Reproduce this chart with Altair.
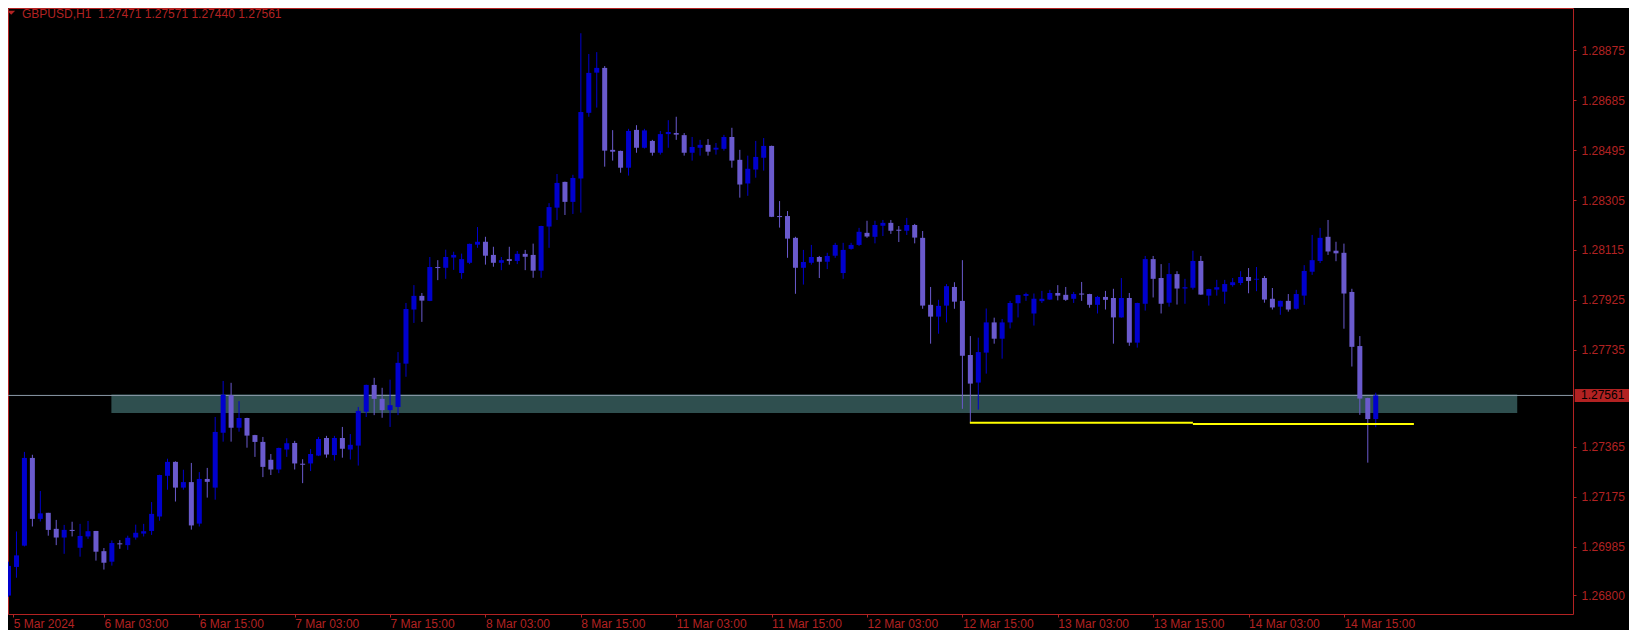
import json
import altair as alt
import pandas as pd

# ---------------- data (GBPUSD H1, bars 5 Mar 15:00 -> 14 Mar 19:00) ----------------
opens = [
    1.26799, 1.26908, 1.26989, 1.27323, 1.27091, 1.27114, 1.27053, 1.27020, 1.27049, 1.26981,
    1.27024, 1.27045, 1.26968, 1.26928, 1.26998, 1.26991, 1.27020, 1.27035, 1.27045, 1.27100,
    1.27255, 1.27308, 1.27210, 1.27231, 1.27073, 1.27243, 1.27210, 1.27419, 1.27562, 1.27438,
    1.27475, 1.27410, 1.27384, 1.27316, 1.27279, 1.27355, 1.27380, 1.27301, 1.27302, 1.27332,
    1.27399, 1.27334, 1.27399, 1.27355, 1.27370, 1.27499, 1.27601, 1.27548, 1.27505, 1.27517,
    1.27682, 1.27888, 1.27940, 1.27921, 1.28050, 1.28047, 1.28086, 1.28027, 1.28066, 1.28135,
    1.28146, 1.28096, 1.28066, 1.28080, 1.28073, 1.28100, 1.28096, 1.28036, 1.28204, 1.28276,
    1.28374, 1.28298, 1.28387, 1.28637, 1.28790, 1.28808, 1.28496, 1.28492, 1.28428, 1.28572,
    1.28504, 1.28530, 1.28485, 1.28556, 1.28560, 1.28552, 1.28485, 1.28504, 1.28515, 1.28497,
    1.28500, 1.28545, 1.28458, 1.28368, 1.28421, 1.28466, 1.28511, 1.28244, 1.28244, 1.28161,
    1.28047, 1.28066, 1.28088, 1.28070, 1.28093, 1.28027, 1.28119, 1.28134, 1.28180, 1.28165,
    1.28207, 1.28218, 1.28192, 1.28188, 1.28210, 1.28161, 1.27906, 1.27861, 1.27903, 1.27974,
    1.27921, 1.27715, 1.27610, 1.27724, 1.27839, 1.27777, 1.27839, 1.27912, 1.27940, 1.27873,
    1.27920, 1.27926, 1.27951, 1.27944, 1.27929, 1.27949, 1.27947, 1.27906, 1.27936, 1.27932,
    1.27858, 1.27932, 1.27762, 1.27910, 1.28080, 1.28008, 1.27914, 1.28023, 1.27968, 1.27971,
    1.28073, 1.27941, 1.27964, 1.27956, 1.27981, 1.27989, 1.28012, 1.28002, 1.28008, 1.27929,
    1.27899, 1.27921, 1.27891, 1.27941, 1.28032, 1.28073, 1.28165, 1.28112, 1.28104, 1.27955,
    1.27749, 1.27551, 1.27471]

highs = [
    1.26928, 1.27043, 1.27346, 1.27335, 1.27197, 1.27114, 1.27087, 1.27068, 1.27080, 1.27072,
    1.27083, 1.27045, 1.26980, 1.27009, 1.27010, 1.27027, 1.27069, 1.27072, 1.27155, 1.27259,
    1.27320, 1.27310, 1.27278, 1.27304, 1.27269, 1.27285, 1.27479, 1.27616, 1.27609, 1.27539,
    1.27476, 1.27411, 1.27403, 1.27338, 1.27362, 1.27398, 1.27388, 1.27318, 1.27357, 1.27403,
    1.27407, 1.27407, 1.27441, 1.27414, 1.27517, 1.27602, 1.27628, 1.27590, 1.27621, 1.27726,
    1.27913, 1.27981, 1.27951, 1.28088, 1.28076, 1.28116, 1.28108, 1.28101, 1.28139, 1.28202,
    1.28165, 1.28127, 1.28088, 1.28127, 1.28111, 1.28115, 1.28139, 1.28207, 1.28293, 1.28404,
    1.28375, 1.28401, 1.28940, 1.28861, 1.28868, 1.28815, 1.28571, 1.28493, 1.28576, 1.28590,
    1.28576, 1.28534, 1.28568, 1.28609, 1.28622, 1.28560, 1.28545, 1.28534, 1.28537, 1.28522,
    1.28553, 1.28580, 1.28496, 1.28474, 1.28530, 1.28541, 1.28512, 1.28301, 1.28263, 1.28165,
    1.28115, 1.28134, 1.28092, 1.28104, 1.28142, 1.28142, 1.28142, 1.28199, 1.28226, 1.28226,
    1.28229, 1.28229, 1.28206, 1.28237, 1.28214, 1.28187, 1.27974, 1.27925, 1.27985, 1.27992,
    1.28076, 1.27787, 1.27781, 1.27892, 1.27857, 1.27852, 1.27921, 1.27944, 1.27952, 1.27949,
    1.27959, 1.27963, 1.27981, 1.27974, 1.27955, 1.27993, 1.27948, 1.27940, 1.27959, 1.27967,
    1.28008, 1.27951, 1.27914, 1.28092, 1.28092, 1.28061, 1.28065, 1.28034, 1.28005, 1.28112,
    1.28092, 1.27967, 1.28001, 1.28001, 1.28008, 1.28034, 1.28046, 1.28050, 1.28016, 1.27970,
    1.27922, 1.27947, 1.27963, 1.28057, 1.28172, 1.28199, 1.28229, 1.28146, 1.28139, 1.27967,
    1.27787, 1.27552, 1.27571]

lows = [
    1.26794, 1.26867, 1.26986, 1.27062, 1.27081, 1.27027, 1.26991, 1.26958, 1.27024, 1.26947,
    1.27015, 1.26932, 1.26898, 1.26913, 1.26977, 1.26973, 1.27012, 1.27024, 1.27030, 1.27084,
    1.27202, 1.27157, 1.27202, 1.27050, 1.27062, 1.27172, 1.27164, 1.27385, 1.27385, 1.27423,
    1.27362, 1.27327, 1.27250, 1.27258, 1.27265, 1.27327, 1.27279, 1.27227, 1.27273, 1.27330,
    1.27324, 1.27313, 1.27324, 1.27317, 1.27294, 1.27479, 1.27486, 1.27476, 1.27441, 1.27486,
    1.27632, 1.27837, 1.27841, 1.27920, 1.28000, 1.28005, 1.28039, 1.28005, 1.28061, 1.28123,
    1.28059, 1.28051, 1.28038, 1.28059, 1.28061, 1.28038, 1.28009, 1.28009, 1.28123, 1.28229,
    1.28248, 1.28252, 1.28257, 1.28622, 1.28657, 1.28432, 1.28455, 1.28409, 1.28398, 1.28485,
    1.28501, 1.28474, 1.28478, 1.28504, 1.28534, 1.28474, 1.28455, 1.28474, 1.28474, 1.28478,
    1.28493, 1.28428, 1.28314, 1.28321, 1.28390, 1.28417, 1.28240, 1.28200, 1.28085, 1.27948,
    1.27983, 1.28059, 1.28008, 1.28042, 1.28085, 1.28005, 1.28116, 1.28130, 1.28161, 1.28140,
    1.28168, 1.28176, 1.28145, 1.28172, 1.28140, 1.27891, 1.27758, 1.27796, 1.27839, 1.27891,
    1.27510, 1.27457, 1.27507, 1.27644, 1.27758, 1.27701, 1.27816, 1.27858, 1.27921, 1.27827,
    1.27913, 1.27925, 1.27923, 1.27921, 1.27913, 1.27921, 1.27895, 1.27873, 1.27888, 1.27758,
    1.27857, 1.27750, 1.27743, 1.27884, 1.27934, 1.27873, 1.27899, 1.27907, 1.27910, 1.27964,
    1.27944, 1.27903, 1.27941, 1.27910, 1.27975, 1.27981, 1.27950, 1.27958, 1.27914, 1.27888,
    1.27868, 1.27880, 1.27888, 1.27906, 1.28020, 1.28065, 1.28096, 1.28072, 1.27815, 1.27671,
    1.27487, 1.27305, 1.27440]

closes = [
    1.26912, 1.26952, 1.27323, 1.27091, 1.27112, 1.27049, 1.27020, 1.27049, 1.27045, 1.27026,
    1.27044, 1.26966, 1.26924, 1.26999, 1.26994, 1.27019, 1.27038, 1.27044, 1.27110, 1.27258,
    1.27308, 1.27210, 1.27231, 1.27066, 1.27243, 1.27232, 1.27422, 1.27564, 1.27438, 1.27475,
    1.27408, 1.27384, 1.27289, 1.27279, 1.27361, 1.27379, 1.27302, 1.27297, 1.27338, 1.27395,
    1.27336, 1.27399, 1.27358, 1.27373, 1.27502, 1.27601, 1.27548, 1.27505, 1.27524, 1.27685,
    1.27890, 1.27940, 1.27922, 1.28050, 1.28046, 1.28088, 1.28096, 1.28080, 1.28138, 1.28146,
    1.28093, 1.28066, 1.28076, 1.28073, 1.28100, 1.28089, 1.28036, 1.28206, 1.28278, 1.28370,
    1.28298, 1.28389, 1.28640, 1.28789, 1.28808, 1.28493, 1.28489, 1.28428, 1.28568, 1.28504,
    1.28570, 1.28485, 1.28556, 1.28564, 1.28554, 1.28485, 1.28507, 1.28515, 1.28489, 1.28504,
    1.28545, 1.28455, 1.28364, 1.28424, 1.28469, 1.28511, 1.28241, 1.28240, 1.28158, 1.28047,
    1.28069, 1.28088, 1.28070, 1.28092, 1.28134, 1.28115, 1.28134, 1.28184, 1.28166, 1.28210,
    1.28218, 1.28188, 1.28188, 1.28210, 1.28162, 1.27903, 1.27861, 1.27902, 1.27977, 1.27918,
    1.27712, 1.27606, 1.27726, 1.27839, 1.27777, 1.27839, 1.27913, 1.27943, 1.27947, 1.27929,
    1.27929, 1.27951, 1.27941, 1.27925, 1.27947, 1.27945, 1.27906, 1.27936, 1.27925, 1.27858,
    1.27932, 1.27762, 1.27913, 1.28080, 1.28005, 1.27910, 1.28023, 1.27968, 1.27973, 1.28073,
    1.27945, 1.27966, 1.27973, 1.27985, 1.27992, 1.28012, 1.27997, 1.28005, 1.27926, 1.27896,
    1.27921, 1.27888, 1.27947, 1.28035, 1.28076, 1.28161, 1.28109, 1.28102, 1.27949, 1.27746,
    1.27549, 1.27471, 1.27561]

# time axis (bar index of each label; first label sits at the left edge of the window)
tick_bars = [0.6, 12, 24, 36, 48, 60, 72, 84, 96, 108, 120, 132, 144, 156, 168]
tick_labels = ["5 Mar 2024", "6 Mar 03:00", "6 Mar 15:00", "7 Mar 03:00", "7 Mar 15:00",
               "8 Mar 03:00", "8 Mar 15:00", "11 Mar 03:00", "11 Mar 15:00", "12 Mar 03:00",
               "12 Mar 15:00", "13 Mar 03:00", "13 Mar 15:00", "14 Mar 03:00", "14 Mar 15:00"]
# 1.27545 is hidden behind the current-price label in the reference
price_ticks = [1.26800, 1.26985, 1.27175, 1.27365, 1.27735, 1.27925,
               1.28115, 1.28305, 1.28495, 1.28685, 1.28875]

bid_price = 1.27561
header = "GBPUSD,H1\u00a0\u00a01.27471 1.27571 1.27440 1.27561"

# support zone rectangle and yellow level lines (bar index, price)
zone = {"x": [12.94], "x2": [189.8], "y": [1.27565], "y2": [1.27494]}
levels = {"x": [120.94, 149.0], "x2": [149.0, 176.8], "y": [1.27457, 1.27452]}

# ---------------- styling ----------------
RED = "#B22222"
BULL = "#0000CD"
BEAR = "#6A5ACD"
FONT = "Liberation Sans"
W, H = 1565, 606
XDOM = [0.5625, 196.1875]
YDOM = [1.267288, 1.290361]

n = len(opens)
df = pd.DataFrame({
    "bar": list(range(n)),
    "open": opens, "high": highs, "low": lows, "close": closes,
})
df["dir"] = ["bull" if c >= o else "bear" for o, c in zip(opens, closes)]
df["top"] = df[["open", "close"]].max(axis=1)
df["bot"] = df[["open", "close"]].min(axis=1)

label_expr = json.dumps(tick_labels) + "[round(datum.value / 12)]"

xscale = alt.Scale(domain=XDOM, nice=False, zero=False)
yscale = alt.Scale(domain=YDOM, nice=False, zero=False)
color = alt.Color("dir:N", scale=alt.Scale(domain=["bull", "bear"], range=[BULL, BEAR]), legend=None)

xaxis = alt.Axis(orient="bottom", values=tick_bars, labelExpr=label_expr, labelAlign="left",
                 grid=False, domain=False, tickColor=RED, tickSize=3, labelColor=RED,
                 labelFont=FONT, labelFontSize=12, labelPadding=1, title=None,
                 labelFlush=False, labelOverlap=False)
yaxis = alt.Axis(orient="right", values=price_ticks, format=".5f", grid=False, domain=False,
                 tickColor=RED, tickSize=3, labelColor=RED, labelFont=FONT, labelFontSize=12,
                 labelPadding=5, title=None, labelOverlap=False, labelFlush=False)

base = alt.Chart(df)

zone_layer = alt.Chart(pd.DataFrame(zone)).mark_rect(color="#2F4F4F", clip=True).encode(
    x=alt.X("x:Q", scale=xscale, axis=xaxis), x2="x2:Q",
    y=alt.Y("y:Q", scale=yscale, axis=yaxis), y2="y2:Q")

bid_line = alt.Chart(pd.DataFrame({"p": [bid_price]})).mark_rule(
    color="#8C9AA8", strokeWidth=1).encode(y=alt.Y("p:Q", scale=yscale))

wicks = base.mark_rule(strokeWidth=1, clip=True).encode(
    x=alt.X("bar:Q", scale=xscale), y=alt.Y("low:Q", scale=yscale), y2="high:Q", color=color)

bodies = base.mark_bar(size=5, clip=True).encode(
    x=alt.X("bar:Q", scale=xscale), y=alt.Y("bot:Q", scale=yscale), y2="top:Q", color=color)

level_lines = alt.Chart(pd.DataFrame(levels)).mark_rule(
    color="#FFFF00", strokeWidth=2, clip=True).encode(
    x=alt.X("x:Q", scale=xscale), x2="x2:Q", y=alt.Y("y:Q", scale=yscale))

bid_df = pd.DataFrame({"p": [bid_price], "t": [f"{bid_price:.5f}"]})
bid_box = alt.Chart(bid_df).mark_rule(color=RED, strokeWidth=13, strokeCap="butt").encode(
    y=alt.Y("p:Q", scale=yscale), x=alt.value(W + 1.7), x2=alt.value(W + 56))
bid_text = alt.Chart(bid_df).mark_text(align="left", baseline="middle", font=FONT,
                                       fontSize=12, color="#000000").encode(
    y=alt.Y("p:Q", scale=yscale), x=alt.value(W + 8), text="t:N")

head_df = pd.DataFrame({"t": [header]})
head_text = alt.Chart(head_df).mark_text(align="left", baseline="middle", font=FONT,
                                         fontSize=12, color=RED).encode(
    x=alt.value(14), y=alt.value(5.5), text="t:N")
head_tri = alt.Chart(head_df).mark_point(
    shape="M -1 -0.5 L 1 -0.5 L 0 0.5 Z", size=64, filled=True, color=RED, opacity=1).encode(
    x=alt.value(3.2), y=alt.value(4.8))

chart = alt.layer(
    zone_layer, bid_line, wicks, bodies, level_lines, bid_box, bid_text, head_tri, head_text
).properties(
    width=W, height=H,
    autosize=alt.AutoSizeParams(type="none"),
    padding={"left": 0, "top": 0, "right": 56, "bottom": 16},
    background="#000000",
).configure_view(
    fill="#000000", stroke=RED, strokeWidth=1
)

chart.save("out.html", embed_options={"renderer": "svg", "actions": False})
